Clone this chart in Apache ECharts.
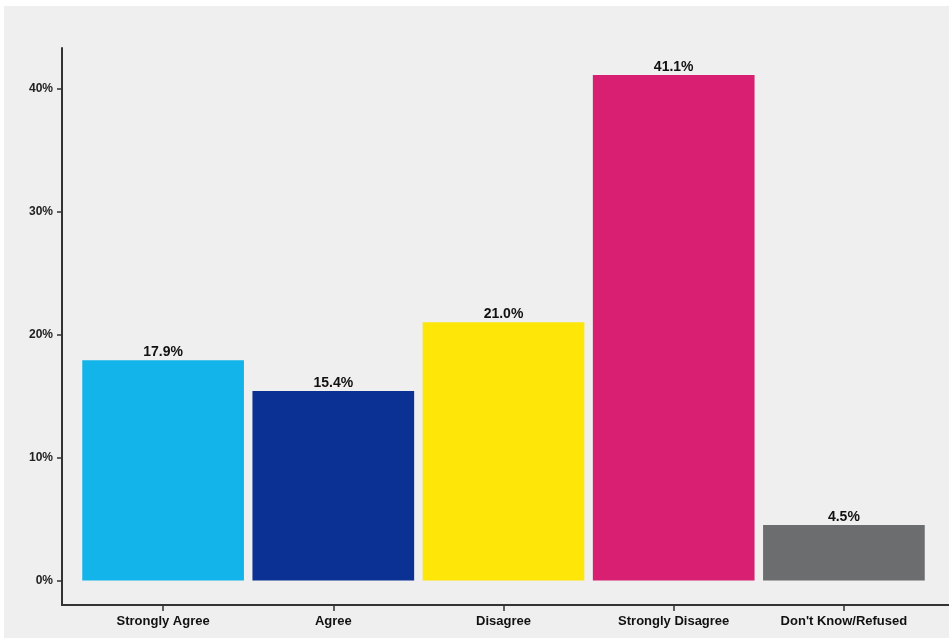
<!DOCTYPE html>
<html>
<head>
<meta charset="utf-8">
<script src="https://cdn.jsdelivr.net/npm/echarts@6/dist/echarts.min.js"></script>
<style>
html,body{margin:0;padding:0;background:#ffffff;}
#bg{position:absolute;left:4px;top:6px;width:945px;height:632px;background:#efefef;}
#chart{position:absolute;left:0;top:0;width:949px;height:638px;}
</style>
</head>
<body>
<div id="bg"></div>
<div id="chart"></div>
<script>
const categories = ['Strongly Agree', 'Agree', 'Disagree', 'Strongly Disagree', "Don't Know/Refused"];
const values = [17.9, 15.4, 21.0, 41.1, 4.5];
const barColors = ['#13b4ea', '#0a3193', '#fde608', '#d81f72', '#6c6d6f'];
const yTicks = [0, 10, 20, 30, 40];

const chart = echarts.init(document.getElementById('chart'), null, {renderer: 'canvas'});
chart.setOption({
  backgroundColor: 'transparent',
  animation: false,
  grid: {left: 78, right: 20, top: 48, bottom: 33},
  xAxis: {
    type: 'category',
    data: categories,
    axisLine: {show: true, onZero: false, lineStyle: {color: '#333333', width: 2}},
    axisTick: {show: true, alignWithLabel: true, length: 6, lineStyle: {color: '#333333', width: 1.5}},
    axisLabel: {
      color: '#111111', fontWeight: 'bold', fontSize: 13,
      fontFamily: '"Liberation Sans Narrow", "Arial Narrow", "Liberation Sans", sans-serif',
      margin: 10
    }
  },
  yAxis: {
    type: 'value',
    min: -2,
    max: 43.3,
    offset: 16,
    splitLine: {show: false},
    axisLine: {show: true, lineStyle: {color: '#333333', width: 2}},
    axisTick: {show: true, length: 5, customValues: yTicks, lineStyle: {color: '#333333', width: 1.5}},
    axisLabel: {
      customValues: yTicks,
      formatter: v => v + '%',
      color: '#222222', fontWeight: 'bold', fontSize: 12,
      fontFamily: '"Liberation Sans", Arial, sans-serif',
      margin: 9
    }
  },
  series: [{
    type: 'bar',
    data: values.map((v, i) => ({value: v, itemStyle: {color: barColors[i]}})),
    barCategoryGap: '5%',
    label: {
      show: true,
      position: 'top',
      distance: 1,
      formatter: p => p.value.toFixed(1) + '%',
      color: '#111111', fontWeight: 'bold', fontSize: 14,
      fontFamily: '"Liberation Sans", Arial, sans-serif'
    }
  }],
  graphic: [{
    type: 'line',
    shape: {x1: 61, y1: 605, x2: 949, y2: 605},
    style: {stroke: '#333333', lineWidth: 2},
    z: 10
  }]
});
</script>
</body>
</html>
